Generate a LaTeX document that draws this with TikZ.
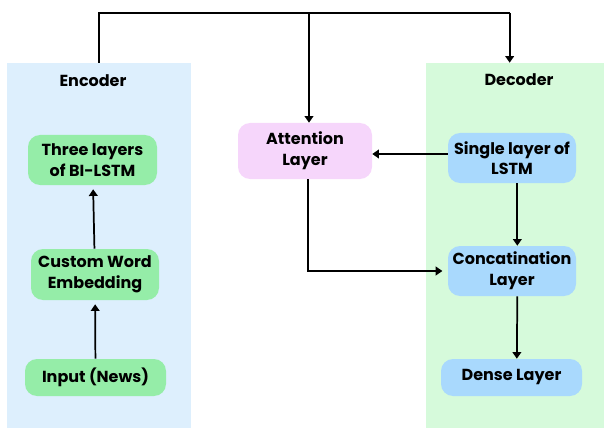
\documentclass[tikz,border=0pt]{standalone}
\usepackage{fontspec}
\setmainfont{Poppins}
\usetikzlibrary{arrows.meta,positioning}

\definecolor{encbg}{HTML}{DDEFFD}
\definecolor{decbg}{HTML}{D6FADB}
\definecolor{encblock}{HTML}{95EDA8}
\definecolor{decblock}{HTML}{A9D9FD}
\definecolor{attblock}{HTML}{F6D6FB}

\tikzset{
  panel/.style={fill=#1, draw=none, inner sep=0pt},
  block/.style={fill=#1, draw=none, rounded corners=9pt, align=center,
    inner sep=2pt, font=\fontsize{12}{15.5}\selectfont\bfseries},
  title/.style={font=\fontsize{12}{14}\selectfont\bfseries},
  arr/.style={line width=1.3pt, -{Triangle[length=5pt,width=6.5pt]}},
}

\begin{document}
\begin{tikzpicture}[x=0.75pt,y=-0.75pt]

\useasboundingbox (0,0) rectangle (604,428);

% Background panels
\node[panel=encbg, minimum width=138pt, minimum height=273.75pt] (encpanel) at (99,245.5) {};
\node[panel=decbg, minimum width=133.5pt, minimum height=273.75pt] (decpanel) at (515,245.5) {};

\node[title] (enctitle) at (93,81) {Encoder};
\node[title] (dectitle) at (519,80) {Decoder};

% Encoder side
\node[block=encblock, minimum width=96.75pt, minimum height=37.5pt] (bilstm) at (92.5,160) {Three layers\\of BI-LSTM};
\node[block=encblock, minimum width=96pt, minimum height=38.25pt] (embed) at (95,274.5) {Custom Word\\Embedding};
\node[block=encblock, minimum width=105.75pt, minimum height=27.75pt] (input) at (95.5,377.5) {Input (News)};

% Attention
\node[block=attblock, minimum width=100.5pt, minimum height=42pt] (att) at (305,151) {Attention\\Layer};

% Decoder side
\node[block=decblock, minimum width=96pt, minimum height=37.5pt] (lstm) at (512,158) {Single layer of\\LSTM};
\node[block=decblock, minimum width=96pt, minimum height=37.5pt] (concat) at (512,271) {Concatination\\Layer};
\node[block=decblock, minimum width=105.75pt, minimum height=27.75pt] (dense) at (511.5,377.5) {Dense Layer};

\coordinate (bus) at (0,13);

% Connectors
\draw[arr, shorten >=3pt] (input) -- (embed);
\draw[arr, shorten >=3pt] (embed) -- (bilstm);
\draw[line width=1.3pt] (encpanel.north) -- (encpanel.north |- bus) -- ([xshift=-4pt]decpanel.north |- bus);
\draw[arr] ([xshift=-4pt]decpanel.north |- bus) -- ([xshift=-4pt]decpanel.north);
\draw[arr] ([xshift=3pt]att.north |- bus) -- ([xshift=3pt]att.north);
\draw[arr] ([yshift=3pt]lstm.west) -- ([yshift=3pt]lstm.west -| att.east);
\draw[arr] ([xshift=4pt]lstm.south) -- ([xshift=4pt]concat.north);
\draw[arr] ([xshift=4pt]concat.south) -- ([xshift=4pt]dense.north);
\draw[arr, shorten >=4pt] ([xshift=2pt]att.south) |- (concat.west);

\end{tikzpicture}
\end{document}
